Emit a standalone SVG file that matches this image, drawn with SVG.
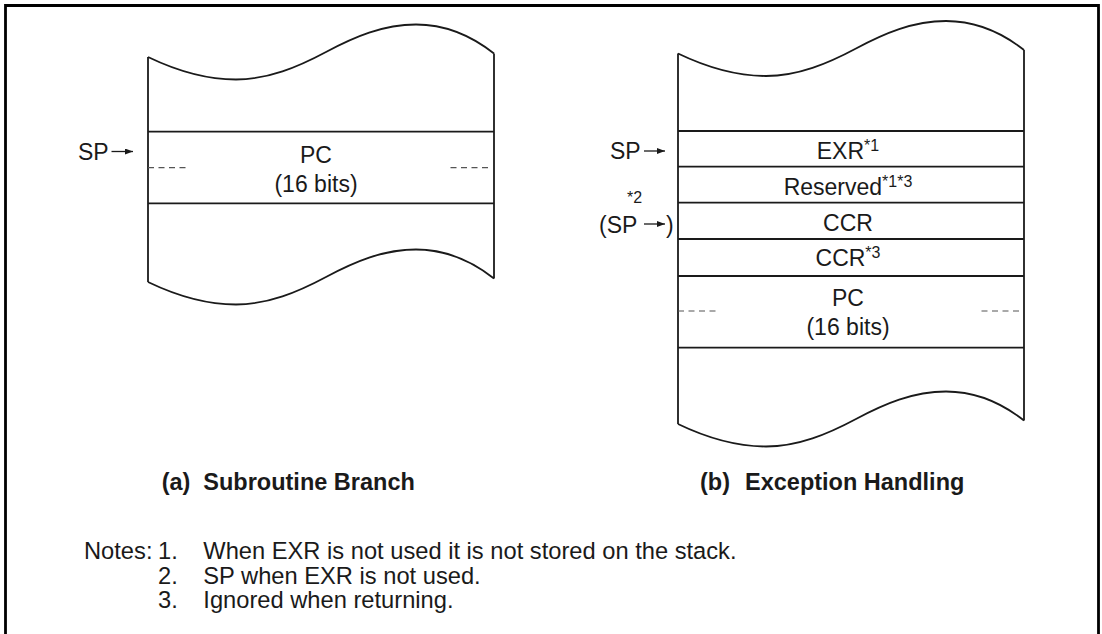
<svg xmlns="http://www.w3.org/2000/svg" xmlns:xlink="http://www.w3.org/1999/xlink" width="1102" height="634" viewBox="0 0 1102 634">
<style>
  .ln{fill:none;stroke:#1a1a1a;stroke-width:1.8}
  .dash{fill:none;stroke:#555;stroke-width:1.2;stroke-dasharray:6 4.5}
  .t{font-family:"Liberation Sans",Arial,Helvetica,sans-serif;font-size:23px;fill:#1a1a1a}
  .n{font-family:"Liberation Sans",Arial,Helvetica,sans-serif;font-size:23.7px;fill:#1a1a1a}
  .c{text-anchor:middle}
  .sup{font-size:16px}
  .cap{font-family:"Liberation Sans",Arial,Helvetica,sans-serif;font-size:23.5px;font-weight:bold;fill:#1a1a1a}
  .arr{stroke:#1a1a1a;stroke-width:1.3;fill:none}
  .frame{fill:none;stroke:#000;stroke-width:2.8}
</style>
<defs>
  <path id="wave" class="ln" d="M0,0 C25,12 55,22.5 88,22.5 C120,22.5 150,10 178,-5 C206,-20 235,-32.5 268,-32.5 C300,-32.5 325,-20 346,-3.5"/>
  <marker id="ah" markerWidth="8" markerHeight="6" refX="8" refY="3" orient="auto" markerUnits="userSpaceOnUse">
    <path d="M0,0 L8,3 L0,6 z" fill="#1a1a1a"/>
  </marker>
</defs>
<rect width="1102" height="634" fill="#fff"/>
<path class="frame" d="M5.5,640 V5.5 H1098.5 V640"/>

<g id="stack-a">
  <use xlink:href="#wave" x="148" y="57"/>
  <use xlink:href="#wave" x="148" y="282"/>
  <line class="ln" x1="148" y1="57" x2="148" y2="282"/>
  <line class="ln" x1="494" y1="53.5" x2="494" y2="278.5"/>
  <g id="a-pc">
    <line class="ln" x1="148" y1="131.7" x2="494" y2="131.7"/>
    <line class="ln" x1="148" y1="203.3" x2="494" y2="203.3"/>
    <line class="dash" x1="148" y1="167.7" x2="188" y2="167.7"/>
    <line class="dash" x1="450.5" y1="167.7" x2="490" y2="167.7"/>
    <text class="t c" x="316" y="162.7">PC</text>
    <text class="t c" x="316" y="191.7">(16 bits)</text>
  </g>
</g>

<g id="stack-b">
  <use xlink:href="#wave" x="678" y="53.5"/>
  <use xlink:href="#wave" x="678" y="424"/>
  <line class="ln" x1="678" y1="53.5" x2="678" y2="424"/>
  <line class="ln" x1="1024" y1="50" x2="1024" y2="420.5"/>
  <line class="ln" x1="678" y1="131" x2="1024" y2="131"/>
  <line class="ln" x1="678" y1="166.7" x2="1024" y2="166.7"/>
  <line class="ln" x1="678" y1="202.7" x2="1024" y2="202.7"/>
  <line class="ln" x1="678" y1="239" x2="1024" y2="239"/>
  <line class="ln" x1="678" y1="276" x2="1024" y2="276"/>
  <line class="ln" x1="678" y1="347.7" x2="1024" y2="347.7"/>
  <g id="b-exr"><text class="t c" x="848" y="159.3">EXR<tspan class="sup" dy="-8">*1</tspan></text></g>
  <g id="b-reserved"><text class="t c" x="848" y="195">Reserved<tspan class="sup" dy="-8">*1*3</tspan></text></g>
  <g id="b-ccr"><text class="t c" x="848" y="231">CCR</text></g>
  <g id="b-ccr3"><text class="t c" x="848" y="265.7">CCR<tspan class="sup" dy="-8">*3</tspan></text></g>
  <g id="b-pc">
    <line class="dash" x1="678" y1="311" x2="717" y2="311"/>
    <line class="dash" x1="981.5" y1="311" x2="1021" y2="311"/>
    <text class="t c" x="848" y="306">PC</text>
    <text class="t c" x="848" y="335">(16 bits)</text>
  </g>
</g>

<g id="labels">
  <text class="t" x="78" y="160">SP</text>
  <text class="t" x="610" y="159.3">SP</text>
  <text class="t sup" x="627" y="202.7">*2</text>
  <text class="t" x="599" y="232.7">(SP</text>
  <text class="t" x="666" y="232.7">)</text>
</g>

<g id="connectors">
  <line class="arr" x1="111.5" y1="151.5" x2="133" y2="151.5" marker-end="url(#ah)"/>
  <line class="arr" x1="644" y1="151" x2="665" y2="151" marker-end="url(#ah)"/>
  <line class="arr" x1="644" y1="224" x2="665" y2="224" marker-end="url(#ah)"/>
</g>

<g id="captions">
  <text class="cap" x="161.7" y="490">(a)</text>
  <text class="cap" x="203.3" y="490">Subroutine Branch</text>
  <text class="cap" x="700" y="490">(b)</text>
  <text class="cap" x="745" y="490">Exception Handling</text>
</g>

<g id="notes">
  <text class="n" x="84" y="559.3">Notes:</text>
  <text class="n" x="158" y="559.3">1.</text>
  <text class="n" x="203.3" y="559.3">When EXR is not used it is not stored on the stack.</text>
  <text class="n" x="158" y="583.5">2.</text>
  <text class="n" x="203.3" y="583.5">SP when EXR is not used.</text>
  <text class="n" x="158" y="608">3.</text>
  <text class="n" x="203.3" y="608">Ignored when returning.</text>
</g>
</svg>
